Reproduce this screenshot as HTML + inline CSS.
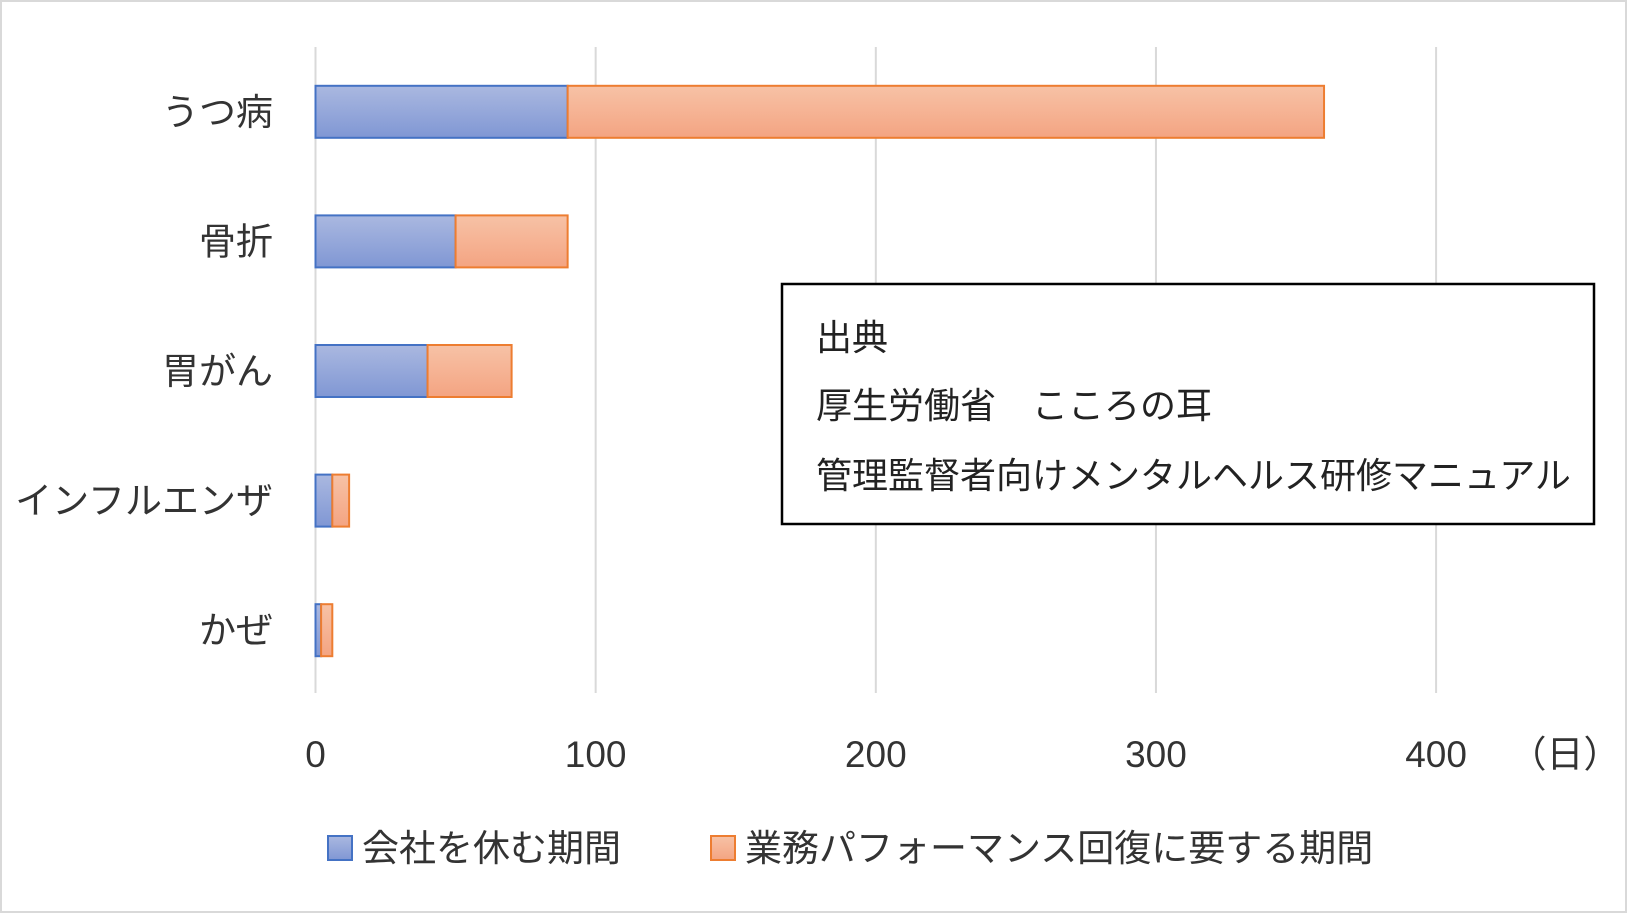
<!DOCTYPE html>
<html><head><meta charset="utf-8"><style>
html,body{margin:0;padding:0;background:#fff;}
svg{display:block;font-family:"Liberation Sans","Noto Sans CJK JP",sans-serif;}
</style></head><body>
<svg id="chart" width="1627" height="913" viewBox="0 0 1627 913">
<rect x="1" y="1" width="1625" height="911" fill="#fff" stroke="#d9d9d9" stroke-width="2"/>
<defs>
<linearGradient id="gb" x1="0" y1="0" x2="0" y2="1"><stop offset="0" stop-color="#aab8e0"/><stop offset="1" stop-color="#8097d4"/></linearGradient>
<linearGradient id="go" x1="0" y1="0" x2="0" y2="1"><stop offset="0" stop-color="#f7c2a6"/><stop offset="1" stop-color="#f4a482"/></linearGradient>
</defs>
<g id="grid"></g><g id="bars"></g><g id="labels"></g>
<g>
<rect x="328" y="836" width="24" height="24" fill="url(#gb)" stroke="#4472c4" stroke-width="2"/>
<text x="362" y="861" font-size="37" fill="#333">会社を休む期間</text>
<rect x="711" y="836" width="24" height="24" fill="url(#go)" stroke="#ed7d31" stroke-width="2"/>
<text x="745" y="861" font-size="37" fill="#333">業務パフォーマンス回復に要する期間</text>
</g>
<g>
<rect x="782" y="284" width="812" height="240" fill="#fff" stroke="#000" stroke-width="2.5"/>
<text x="816" y="350" font-size="36" fill="#222">出典</text>
<text x="816" y="418" font-size="36" fill="#222">厚生労働省　こころの耳</text>
<text x="816" y="488" font-size="36" fill="#222">管理監督者向けメンタルヘルス研修マニュアル</text>
</g>
</svg>
<script>
const categories=["うつ病","骨折","胃がん","インフルエンザ","かぜ"];
const restDays=[90,50,40,6,2];
const recoveryDays=[270,40,30,6,4];
const ticks=[0,100,200,300,400];
const NS="http://www.w3.org/2000/svg";
const x0=315.5,pxPerDay=2.8015,yTop=47,yBot=693,bandTop=47,bandH=129.6,barH=52;
const xs=v=>x0+v*pxPerDay;
const yc=i=>bandTop+bandH*(i+0.5);
function mk(tag,attrs,parent){const e=document.createElementNS(NS,tag);for(const k in attrs)e.setAttribute(k,attrs[k]);parent.appendChild(e);return e;}
const grid=document.getElementById('grid'),bars=document.getElementById('bars'),labels=document.getElementById('labels');
ticks.forEach(t=>{
 const l=mk('line',{x1:xs(t),x2:xs(t),y1:yTop,y2:yBot,stroke:'#d9d9d9','stroke-width':2},grid);
 
 
 const tx=mk('text',{x:xs(t),y:767,'font-size':37,'text-anchor':'middle',fill:'#333'},labels);
 tx.textContent=t;
 
 
});
const unit=mk('text',{x:1565,y:767,'font-size':37,'text-anchor':'middle',fill:'#333'},labels);
unit.textContent='（日）';


categories.forEach((c,i)=>{
 const y=yc(i)-barH/2;
 const b=mk('rect',{x:xs(0),y:y,width:xs(restDays[i])-xs(0),height:barH,fill:'url(#gb)',stroke:'#4472c4','stroke-width':2},bars);
 
 
 const o=mk('rect',{x:xs(restDays[i]),y:y,width:xs(restDays[i]+recoveryDays[i])-xs(restDays[i]),height:barH,fill:'url(#go)',stroke:'#ed7d31','stroke-width':2},bars);
 
 
 const t=mk('text',{x:273,y:yc(i)+13,'font-size':37,'text-anchor':'end',fill:'#333'},labels);
 t.textContent=c;
 
 
});
</script>
</body></html>
